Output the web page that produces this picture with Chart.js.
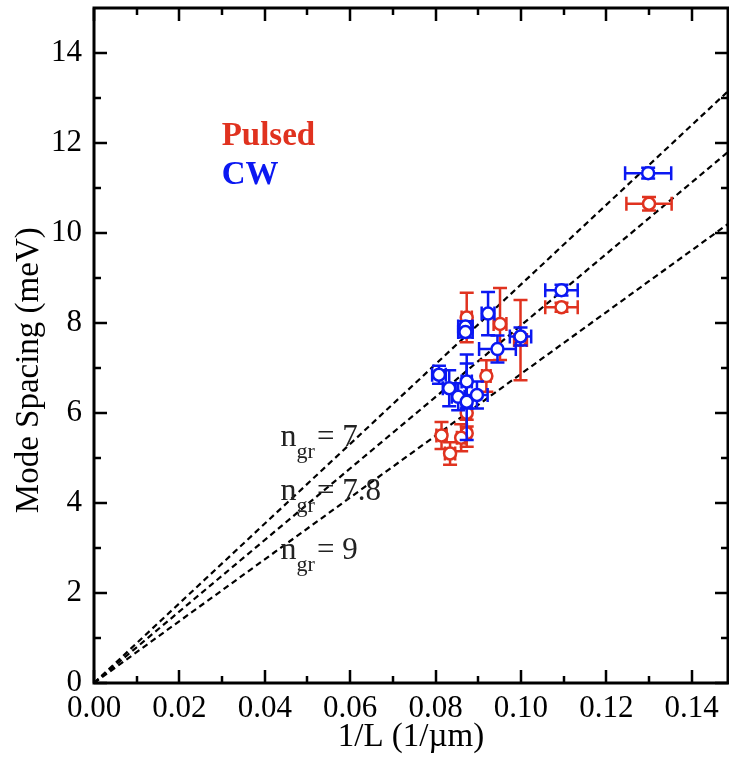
<!DOCTYPE html>
<html><head><meta charset="utf-8">
<script src="https://cdn.jsdelivr.net/npm/chart.js@4.4.0/dist/chart.umd.min.js"></script>
<style>html,body{margin:0;padding:0;background:#fff;}#wrap{width:729px;height:758px;}</style>
</head><body><div id="wrap"><canvas id="c" width="729" height="758"></canvas></div>
<script>
// ---- data ----
const pulsedX    = [0.1300, 0.1095, 0.0873, 0.0951, 0.0999, 0.0919, 0.0873, 0.0873, 0.0860, 0.0814, 0.0834];
const pulsedY    = [10.65,  8.35,   8.12,   7.98,   7.62,   6.82,   6.00,   5.55,   5.45,   5.50,   5.10];
const pulsedErrX = [0.0053, 0.0038, 0.0012, 0.0015, 0.0015, 0.0010, 0.0010, 0.0010, 0.0010, 0.0012, 0.0012];
const pulsedErrY = [0.15,   0.10,   0.55,   0.80,   0.89,   0.35,   0.30,   0.30,   0.30,   0.30,   0.25];

const cwX    = [0.1298, 0.1095, 0.0923, 0.0870, 0.0870, 0.0999, 0.0945, 0.0808, 0.0832, 0.0873, 0.0897, 0.0853, 0.0873];
const cwY    = [11.33,  8.73,   8.21,   7.92,   7.80,   7.70,   7.42,   6.85,   6.55,   6.70,   6.40,   6.36,   6.25];
const cwErrX = [0.0054, 0.0038, 0.0015, 0.0017, 0.0017, 0.0025, 0.0043, 0.0016, 0.0015, 0.0012, 0.0025, 0.0015, 0.0012];
const cwErrY = [0.12,   0.12,   0.48,   0.12,   0.12,   0.20,   0.30,   0.20,   0.40,   0.60,   0.30,   0.30,   0.85];

// reference lines n_gr = 7, 7.8, 9 : end points read at the right edge
const lineLabels = ['7', '7.8', '9'];
const lineEndX = 0.1485;
const lineEndY = [13.15, 11.80, 10.20];
// label anchor (data coords of the "n" baseline)
const lineLabelX = 0.0437;
const lineLabelY = [5.27, 4.07, 2.76];

const xTicks = [0, 0.02, 0.04, 0.06, 0.08, 0.10, 0.12, 0.14];
const yTicks = [0, 2, 4, 6, 8, 10, 12, 14];

const RED = '#e0321f', BLUE = '#0b18f2';
const FONT = "'Liberation Serif', 'DejaVu Serif', serif";

const errMap = {
  'Pulsed': {ex: pulsedErrX, ey: pulsedErrY},
  'CW': {ex: cwErrX, ey: cwErrY}
};

const errPlugin = {
  id: 'errbars',
  beforeDatasetDraw(chart, args) {
    const ds = chart.data.datasets[args.index];
    const e = errMap[ds.label];
    if (!e) return;
    const xs = chart.scales.x, ys = chart.scales.y, ctx = chart.ctx;
    ctx.save();
    ctx.strokeStyle = ds.borderColor; ctx.lineWidth = 2.5; ctx.lineCap = 'butt';
    const cap = 7;
    ds.data.forEach((p, i) => {
      const px = xs.getPixelForValue(p.x), py = ys.getPixelForValue(p.y);
      const x0 = xs.getPixelForValue(p.x - e.ex[i]), x1 = xs.getPixelForValue(p.x + e.ex[i]);
      const y0 = ys.getPixelForValue(p.y - e.ey[i]), y1 = ys.getPixelForValue(p.y + e.ey[i]);
      ctx.beginPath();
      ctx.moveTo(x0, py); ctx.lineTo(x1, py);
      ctx.moveTo(x0, py - cap); ctx.lineTo(x0, py + cap);
      ctx.moveTo(x1, py - cap); ctx.lineTo(x1, py + cap);
      ctx.moveTo(px, y0); ctx.lineTo(px, y1);
      ctx.moveTo(px - cap, y0); ctx.lineTo(px + cap, y0);
      ctx.moveTo(px - cap, y1); ctx.lineTo(px + cap, y1);
      ctx.stroke();
    });
    ctx.restore();
  }
};

const framePlugin = {
  id: 'frame',
  afterDraw(chart) {
    const {ctx, chartArea: a} = chart;
    const xs = chart.scales.x, ys = chart.scales.y;
    ctx.save();
    ctx.strokeStyle = '#000';
    ctx.lineWidth = 2.5;
    ctx.beginPath();
    for (let k = 0; k <= 14; k++) {
      const len = (k % 2 === 0) ? 13 : 7;
      const px = Math.round(xs.getPixelForValue(k / 100));
      ctx.moveTo(px, a.bottom); ctx.lineTo(px, a.bottom - len);
      ctx.moveTo(px, a.top); ctx.lineTo(px, a.top + len);
    }
    for (let k = 0; k < 15; k++) {
      const len = (k % 2 === 0) ? 13 : 7;
      const py = Math.round(ys.getPixelForValue(k));
      ctx.moveTo(a.left, py); ctx.lineTo(a.left + len, py);
      ctx.moveTo(a.right, py); ctx.lineTo(a.right - len, py);
    }
    ctx.stroke();
    ctx.lineWidth = 3;
    ctx.strokeRect(a.left, a.top, a.right - a.left, a.bottom - a.top);

    ctx.textBaseline = 'alphabetic';
    ctx.textAlign = 'left';
    ctx.font = "bold 33px " + FONT;
    ctx.fillStyle = RED;
    ctx.fillText('Pulsed', xs.getPixelForValue(0.0299), ys.getPixelForValue(11.96));
    ctx.fillStyle = BLUE;
    ctx.fillText('CW', xs.getPixelForValue(0.0299), ys.getPixelForValue(11.10));

    ctx.fillStyle = '#222';
    lineLabels.forEach((t, i) => {
      let x = xs.getPixelForValue(lineLabelX);
      const y = ys.getPixelForValue(lineLabelY[i]);
      ctx.font = "32px " + FONT;
      ctx.fillText('n', x, y);
      x += ctx.measureText('n').width;
      ctx.font = "22px " + FONT;
      ctx.fillText('gr', x, y + 12);
      x += ctx.measureText('gr').width + 2;
      ctx.font = "31px " + FONT;
      ctx.fillText('= ' + t, x, y);
    });
    ctx.restore();
  }
};

const lineDatasets = lineEndY.map((ye, i) => ({
  type: 'line',
  label: 'ngr' + lineLabels[i],
  data: [{x: 0, y: 0}, {x: lineEndX, y: ye}],
  borderColor: '#000',
  borderWidth: 2.2,
  borderDash: [6, 4],
  pointRadius: 0,
  fill: false,
  order: 3
}));

new Chart(document.getElementById('c'), {
  type: 'scatter',
  data: {
    datasets: [
      ...lineDatasets,
      {
        label: 'Pulsed',
        data: pulsedX.map((x, i) => ({x, y: pulsedY[i]})),
        borderColor: RED, backgroundColor: '#fff',
        pointRadius: 6, pointBorderWidth: 2.5, pointHoverRadius: 6,
        order: 1
      },
      {
        label: 'CW',
        data: cwX.map((x, i) => ({x, y: cwY[i]})),
        borderColor: BLUE, backgroundColor: '#fff',
        pointRadius: 6, pointBorderWidth: 2.5, pointHoverRadius: 6,
        order: 0
      }
    ]
  },
  options: {
    responsive: false,
    devicePixelRatio: 1,
    animation: false,
    layout: {autoPadding: false, padding: {top: 8, right: 1, left: 0, bottom: 0}},
    plugins: {legend: {display: false}, tooltip: {enabled: false}},
    scales: {
      x: {
        type: 'linear', min: 0, max: 0.1485,
        grid: {display: false, drawTicks: false},
        border: {display: false},
        afterFit(s) { s.height = 75; s.paddingLeft = 0; s.paddingRight = 0; s.paddingTop = 0; s.paddingBottom = 0; },
        afterBuildTicks(s) { s.ticks = xTicks.map(v => ({value: v})); },
        ticks: {
          padding: 7, color: '#000', maxRotation: 0, autoSkip: false,
          font: {family: FONT, size: 31},
          callback: v => v.toFixed(2)
        },
        title: {display: true, text: '1/L (1/\u00b5m)', color: '#000',
          font: {family: FONT, size: 33}, padding: {top: 0, bottom: 1}}
      },
      y: {
        type: 'linear', min: 0, max: 15,
        grid: {display: false, drawTicks: false},
        border: {display: false},
        afterFit(s) { s.width = 94; s.paddingLeft = 0; s.paddingRight = 0; s.paddingTop = 0; s.paddingBottom = 0; },
        afterBuildTicks(s) { s.ticks = yTicks.map(v => ({value: v})); },
        ticks: {
          padding: 12, color: '#000', autoSkip: false,
          font: {family: FONT, size: 31},
          callback: v => String(v)
        },
        title: {display: true, text: 'Mode Spacing (meV)      ', color: '#000',
          font: {family: FONT, size: 33}, padding: {top: 10, bottom: 0}}
      }
    }
  },
  plugins: [errPlugin, framePlugin]
});
</script></body></html>
